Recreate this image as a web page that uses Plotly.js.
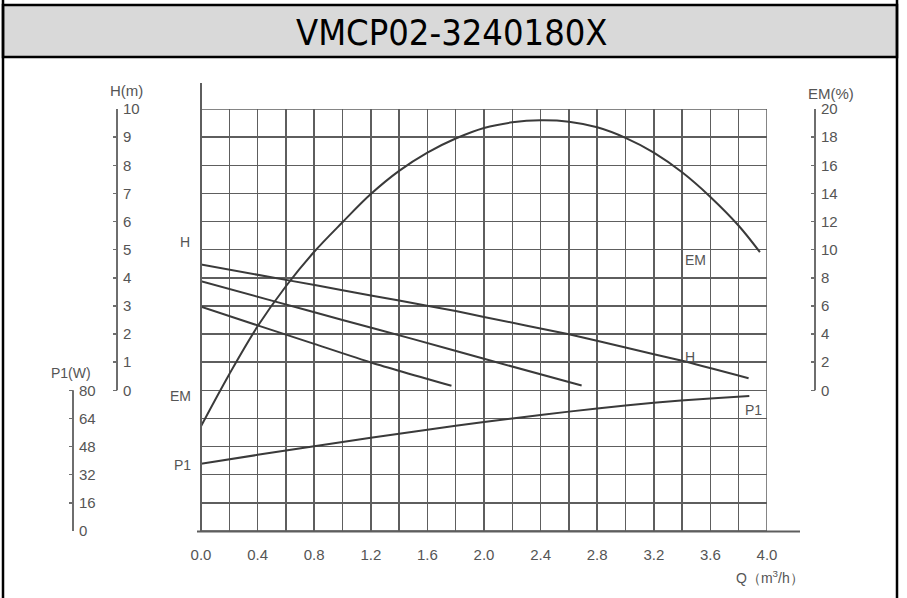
<!DOCTYPE html>
<html>
<head>
<meta charset="utf-8">
<script src="https://cdn.plot.ly/plotly-3.0.1.min.js"></script>
<style>html,body{margin:0;padding:0;background:#fff;}#chart{width:907px;height:598px;}</style>
</head>
<body>
<div id="chart"></div>
<script>
// ---- data ----
var chartTitle = "VMCP02-3240180X";
var qH1 = [0, 0.63, 1.0, 1.4, 1.8, 2.0, 2.6, 3.0, 3.4, 3.87];
var hH1 = [4.47, 3.90, 3.56, 3.19, 2.82, 2.61, 1.99, 1.52, 1.05, 0.43];
var qH2 = [0, 0.5, 1.0, 1.5, 2.0, 2.69];
var hH2 = [3.875, 3.19, 2.50, 1.82, 1.12, 0.17];
var qH3 = [0, 0.4, 0.8, 1.2, 1.77];
var hH3 = [2.97, 2.31, 1.65, 0.99, 0.16];
var qEM = [0, 0.2, 0.4, 0.6, 0.8, 1.0, 1.2, 1.4, 1.6, 1.8, 2.0, 2.2, 2.4, 2.6, 2.8, 3.0, 3.2, 3.4, 3.6, 3.8, 3.95];
var vEM = [-2.55, 1.15, 4.55, 7.4, 9.85, 11.95, 13.95, 15.6, 16.9, 17.9, 18.65, 19.05, 19.2, 19.1, 18.7, 17.95, 16.9, 15.5, 13.75, 11.7, 9.82];
var qP1 = [0, 0.4, 0.8, 1.2, 1.6, 2.0, 2.4, 2.8, 3.2, 3.6, 3.875];
var vP1 = [38.2, 43.3, 48.2, 53.0, 57.6, 62.0, 66.0, 69.7, 72.9, 75.4, 76.8];
var hTicks = [0,1,2,3,4,5,6,7,8,9,10];
var emTicks = [0,2,4,6,8,10,12,14,16,18,20];
var p1Ticks = [0,16,32,48,64,80];

// ---- geometry helpers (pixel -> paper) ----
var W = 907, Ht = 598, T = 109, B = 67;
function px(x){ return x / W; }
function py(y){ return (Ht - B - y) / (Ht - T - B); }

var lineCol = '#3a3a3a', gridCol = '#5e5e5e', txtCol = '#555555', axCol = '#6e6e6e';
var tf = {family: 'Liberation Sans, Arial, sans-serif', size: 15, color: txtCol};

function curve(x, y, ya, sm){
  return {x: x, y: y, yaxis: ya, type: 'scatter', mode: 'lines',
          line: {color: lineCol, width: 2, shape: 'spline', smoothing: sm}, hoverinfo: 'skip'};
}
var data = [
  {x: [null], y: [null], yaxis: 'y', type: 'scatter', mode: 'lines', hoverinfo: 'skip'},
  curve(qH1, hH1, 'y2', 0.5), curve(qH2, hH2, 'y2', 0.5), curve(qH3, hH3, 'y2', 0.5),
  curve(qEM, vEM, 'y3', 1.0), curve(qP1, vP1, 'y4', 0.8)
];

function sideAxis(pos, range, ticks){
  return {overlaying: 'y', anchor: 'free', position: pos, side: 'right', range: range,
          tickmode: 'array', tickvals: ticks, ticks: 'inside', ticklen: 4, tickwidth: 1.5,
          tickcolor: axCol, showgrid: false, zeroline: false, showline: false,
          tickfont: tf, ticklabelstandoff: 5, fixedrange: true};
}

var shapes = [
  // title band
  {type: 'rect', xref: 'paper', yref: 'paper', x0: px(3), x1: px(897), y0: py(57), y1: py(5),
   fillcolor: '#d9d9d9', line: {color: '#000', width: 2.5}},
  // outer frame verticals
  {type: 'line', xref: 'paper', yref: 'paper', x0: px(3), x1: px(3), y0: py(0), y1: py(598), line: {color: '#000', width: 2.5}},
  {type: 'line', xref: 'paper', yref: 'paper', x0: px(897), x1: px(897), y0: py(0), y1: py(598), line: {color: '#000', width: 2.5}},
  // grid frame
  {type: 'rect', xref: 'x', yref: 'y', x0: 0, x1: 4, y0: -5, y1: 10, line: {color: gridCol, width: 1.5}},
  // extended left & bottom lines
  {type: 'line', xref: 'paper', yref: 'paper', x0: px(201), x1: px(201), y0: py(83), y1: py(532), line: {color: gridCol, width: 2}},
  {type: 'line', xref: 'paper', yref: 'paper', x0: px(197), x1: px(800), y0: py(531.5), y1: py(531.5), line: {color: gridCol, width: 2}},
  // side axis lines
  {type: 'line', xref: 'paper', yref: 'y2', x0: px(117), x1: px(117), y0: 0, y1: 10, line: {color: axCol, width: 2}},
  {type: 'line', xref: 'paper', yref: 'y3', x0: px(815), x1: px(815), y0: 0, y1: 20, line: {color: axCol, width: 2}},
  {type: 'line', xref: 'paper', yref: 'y4', x0: px(73), x1: px(73), y0: 0, y1: 80, line: {color: axCol, width: 2}}
];

function ann(text, x, y, size){
  return {text: text, xref: 'paper', yref: 'paper', x: px(x), y: py(y), showarrow: false,
          xanchor: 'center', yanchor: 'middle',
          font: {family: 'Liberation Sans, Arial, sans-serif', size: size || 14, color: txtCol}};
}
var annotations = [
  {text: chartTitle, xref: 'paper', yref: 'paper', x: px(452), y: py(32), showarrow: false,
   xanchor: 'center', yanchor: 'middle',
   font: {family: 'Liberation Sans Narrow, DejaVu Sans Condensed, Arial Narrow, sans-serif', size: 36, color: '#000'}},
  ann('H(m)', 126, 91, 15),
  ann('EM(%)', 831, 93, 15),
  ann('P1(W)', 71, 373, 14),
  ann('Q（m<sup>3</sup>/h）', 770, 577, 14),
  ann('H', 185, 242, 14),
  ann('EM', 180, 396, 14),
  ann('P1', 182, 465, 14),
  ann('EM', 695, 260, 14),
  ann('H', 690, 357, 14),
  ann('P1', 753, 410, 14)
];

var layout = {
  width: W, height: Ht, autosize: false,
  margin: {l: 0, r: 0, t: T, b: B, pad: 0},
  paper_bgcolor: '#ffffff', plot_bgcolor: '#ffffff', showlegend: false,
  xaxis: {domain: [px(201), px(767)], range: [0, 4], tick0: 0, dtick: 0.4, tickformat: '.1f',
          showgrid: true, gridcolor: gridCol, gridwidth: 1.5, zeroline: false, showline: false,
          ticks: '', tickfont: tf, ticklabelstandoff: 13, fixedrange: true,
          minor: {dtick: 0.2, tick0: 0, showgrid: true, gridcolor: gridCol, gridwidth: 1.5}},
  yaxis: {domain: [0, 1], range: [-5, 10], dtick: 1, tick0: 0, showgrid: true, gridcolor: gridCol,
          gridwidth: 1.5, zeroline: false, showline: false, showticklabels: false, ticks: '', fixedrange: true},
  yaxis2: sideAxis(px(117), [-5, 10], hTicks),
  yaxis3: sideAxis(px(815), [-10, 20], emTicks),
  yaxis4: sideAxis(px(73), [0, 240], p1Ticks),
  shapes: shapes,
  annotations: annotations
};

Plotly.newPlot('chart', data, layout, {staticPlot: true, displayModeBar: false});
</script>
</body>
</html>
